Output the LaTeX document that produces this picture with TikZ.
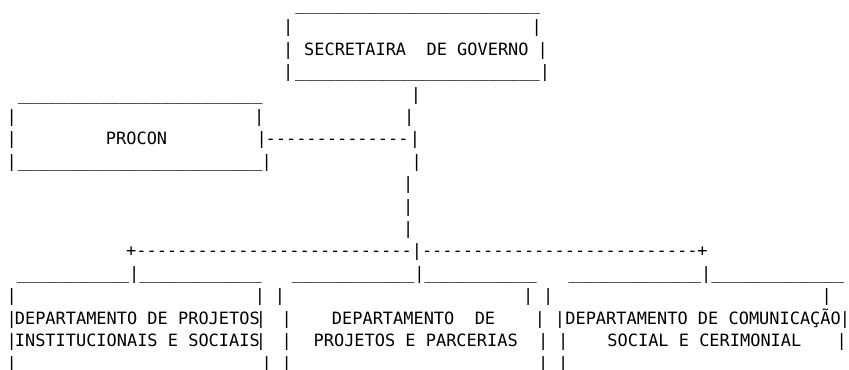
\documentclass[tikz,border=0pt]{standalone}
\usepackage{fontspec}
\setmonofont{DejaVu Sans Mono}
\usepackage{tikz}
\newcommand\asc{\ttfamily\fontsize{12.71pt}{15pt}\selectfont}
\newcommand\unders[1]{\foreach\k in {1,...,#1}{\textunderscore}}
\newcommand\hyphs[1]{\foreach\k in {1,...,#1}{-}}
\newcommand\vbar{\makebox[0pt]{|}}

\begin{document}
\begin{tikzpicture}[x=0.75pt,y=-0.75pt]
\tikzstyle{every node}=[inner sep=0pt,font=\asc];
\tikzstyle{txt}=[anchor=base west];
\tikzstyle{bar}=[anchor=base];
\useasboundingbox (0,0) rectangle (849,370);
\node (SGtop) [txt] at (295,10.6) {\unders{24}};
\node (SG) [txt] at (303.9,55.4) {SECRETAIRA~~DE GOVERNO};
\node (SGbot) [txt] at (294.8,77.8) {\unders{24}};
\node (PCtop) [txt] at (17.5,100.2) {\unders{24}};
\node (PC) [txt] at (105.7,145) {PROCON};
\node (PClink) [txt] at (265.4,145) {\hyphs{14}};
\node (PCbot) [txt] at (17.5,167.4) {\unders{24}};
\node (split) [txt] at (125.9,257) {+\hyphs{27}|\hyphs{27}+};
\node (DAtop) [txt] at (16.7,279.4) {\unders{11}|\unders{12}};
\node (DBtop) [txt] at (291.7,279.4) {\unders{12}|\unders{11}};
\node (DCtop) [txt] at (568.3,279.4) {\unders{13}|\unders{13}};
\node (DA1) [txt] at (14.6,324.2) {DEPARTAMENTO DE PROJETOS};
\node (DA2) [txt] at (14.6,346.6) {INSTITUCIONAIS E SOCIAIS};
\node (DB1) [txt] at (331.7,324.2) {DEPARTAMENTO~~DE};
\node (DB2) [txt] at (313.4,346.6) {PROJETOS E PARCERIAS};
\node (DC1) [txt] at (565.1,324.2) {DEPARTAMENTO DE COMUNICAÇÃO};
\node (DC2) [txt] at (607.2,346.6) {SOCIAL E CERIMONIAL};
\foreach \r/\y/\xs in {1/33/{288.3,536.7}, 2/55.4/{288.3,542.7}, 3/77.8/{288.3,545},
  4/100.2/{416}, 5/122.6/{11.7,259.3,409.3}, 6/145/{11.7,261.7,415},
  7/167.4/{11.7,266.7,416.7}, 8/189.8/{408.3}, 9/212.2/{408.3}, 10/234.6/{408.3},
  13/301.8/{11.7,260,280,528.3,548.3,826.7}, 14/324.2/{11.7,261,286.7,540,560,845},
  15/346.6/{11.7,261,286.7,543.3,563.3,841.7}, 16/369/{11.7,266.7,286.7,543.3,563.3}}
  \foreach \x [count=\i] in \xs
    \node (p\r-\i) [bar] at (\x,\y) {\vbar};
\end{tikzpicture}
\end{document}
